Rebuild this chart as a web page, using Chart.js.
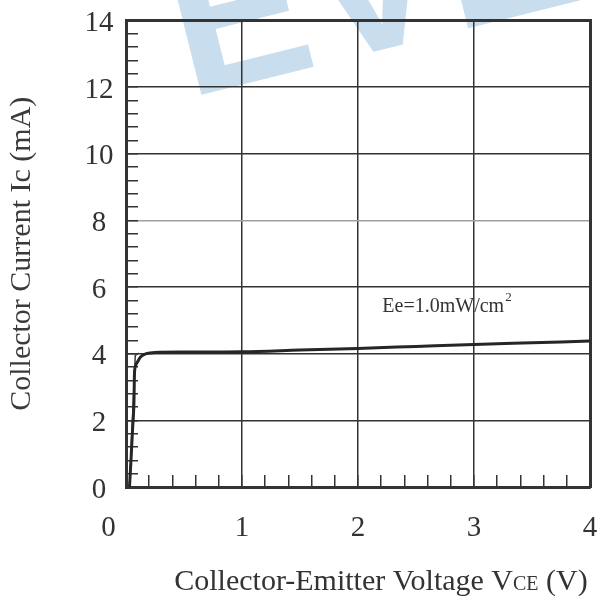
<!DOCTYPE html>
<html lang="en">
<head>
  <meta charset="UTF-8">
  <title>Collector Current vs Collector-Emitter Voltage</title>
  <script src="https://cdn.jsdelivr.net/npm/chart.js"></script>
  <style>
    html, body { margin: 0; padding: 0; background: #fff; }
    .chart { position: relative; width: 599px; height: 603px; }
  </style>
</head>
<body>
  <div class="chart"><canvas id="ivChart"></canvas></div>
  <script>
    // values: VCE in V, Ic in mA
    const vceMain = [0.03, 0.043, 0.056, 0.069, 0.073, 0.082, 0.10, 0.125, 0.174, 0.25, 0.5, 1.0, 1.5, 2.0, 2.5, 3.0, 3.5, 4.0];
    const icMain  = [0, 0.8, 1.7, 2.6, 3.4, 3.63, 3.76, 3.9, 4.0, 4.04, 4.05, 4.06, 4.11, 4.16, 4.22, 4.28, 4.33, 4.38];
    // thin second trace along the steep rise
    const vceThin = [0.03, 0.055, 0.08, 0.11];
    const icThin  = [0, 2.0, 3.95, 4.02];

    const xTickLabels = ['0', '1', '2', '3', '4'];
    const yTickLabels = ['0', '2', '4', '6', '8', '10', '12', '14'];

    const noteText = 'Ee=1.0mW/cm';
    const noteSup = '2';
    const noteAt = [2.21, 5.4];

    const xTitleParts = ['Collector-Emitter Voltage V', 'CE', ' (V)'];
    const yTitle = 'Collector Current Ic (mA)';
    const markText = 'EVE';

    const serif = '"Liberation Serif", "Times New Roman", serif';
    const ink = '#333';

    function isMultiple(v, step) {
      return Math.abs(v / step - Math.round(v / step)) < 1e-6;
    }

    // keep the plot box where the reference has it, labels may overhang
    function noEdgePadding(scale) {
      scale.paddingLeft = 0;
      scale.paddingRight = 0;
      scale.paddingTop = 0;
      scale.paddingBottom = 0;
    }

    // faint watermark behind the plot
    const watermark = {
      id: 'watermark',
      beforeDraw(chart) {
        const ctx = chart.ctx;
        ctx.save();
        ctx.translate(188, 98);
        ctx.rotate(-14 * Math.PI / 180);
        ctx.font = 'bold 206px "Liberation Sans", sans-serif';
        ctx.fillStyle = '#c8ddee';
        ctx.fillText(markText, 0, 0);
        ctx.restore();
      }
    };

    // irradiance note and the x title with small "CE"
    const notes = {
      id: 'notes',
      afterDraw(chart) {
        const ctx = chart.ctx;
        const x = chart.scales.x, y = chart.scales.y;
        ctx.save();
        ctx.fillStyle = ink;
        ctx.textBaseline = 'middle';
        ctx.textAlign = 'left';
        const px = x.getPixelForValue(noteAt[0]);
        const py = y.getPixelForValue(noteAt[1]);
        ctx.font = '20px ' + serif;
        ctx.fillText(noteText, px, py);
        const w = ctx.measureText(noteText).width;
        ctx.font = '13px ' + serif;
        ctx.fillText(noteSup, px + w + 1, py - 9);

        const sizes = [30, 20, 30];
        let total = 0;
        xTitleParts.forEach((t, i) => {
          ctx.font = sizes[i] + 'px ' + serif;
          total += ctx.measureText(t).width;
        });
        let cx = 381 - total / 2;
        ctx.textBaseline = 'alphabetic';
        xTitleParts.forEach((t, i) => {
          ctx.font = sizes[i] + 'px ' + serif;
          ctx.fillText(t, cx, 590);
          cx += ctx.measureText(t).width;
        });
        ctx.restore();
      }
    };

    const ctx = document.getElementById('ivChart').getContext('2d');

    new Chart(ctx, {
      type: 'line',
      data: {
        datasets: [{
          label: 'Ee=1.0mW/cm2',
          data: vceMain.map((v, i) => ({ x: v, y: icMain[i] })),
          borderColor: '#262626',
          borderWidth: 3,
          pointRadius: 0,
          cubicInterpolationMode: 'monotone',
          fill: false
        }, {
          label: 'trace',
          data: vceThin.map((v, i) => ({ x: v, y: icThin[i] })),
          borderColor: '#3a3a3a',
          borderWidth: 1.5,
          pointRadius: 0,
          fill: false
        }]
      },
      options: {
        responsive: true,
        maintainAspectRatio: false,
        animation: false,
        events: [],
        layout: { padding: { top: 20.5, right: 9, bottom: 0, left: 0 } },
        plugins: {
          legend: { display: false },
          tooltip: { enabled: false }
        },
        scales: {
          x: {
            type: 'linear',
            position: 'bottom',
            min: 0,
            max: 4,
            afterFit(scale) { scale.height = 116; noEdgePadding(scale); },
            ticks: {
              stepSize: 0.2,
              maxTicksLimit: 100,
              autoSkip: false,
              maxRotation: 0,
              padding: 36,
              color: ink,
              font: { family: serif, size: 29 },
              callback: (v) => {
                if (!isMultiple(v, 1)) return '';
                const i = Math.round(v);
                return i === 0 ? xTickLabels[0] + '\u2003\u2009' : xTickLabels[i];
              }
            },
            grid: {
              color: (c) => isMultiple(c.tick.value, 1) ? ink : 'rgba(0,0,0,0)',
              lineWidth: 1.5,
              tickColor: ink,
              tickWidth: 1.5,
              tickLength: -12
            },
            border: { color: ink, width: 3 }
          },
          x2: {
            type: 'linear',
            position: 'top',
            min: 0,
            max: 4,
            afterFit(scale) { scale.height = 0; noEdgePadding(scale); },
            ticks: { display: false },
            grid: { drawOnChartArea: false, drawTicks: false },
            border: { color: ink, width: 3 }
          },
          y: {
            type: 'linear',
            position: 'left',
            min: 0,
            max: 14,
            afterFit(scale) { scale.width = 126; noEdgePadding(scale); },
            ticks: {
              stepSize: 0.4,
              maxTicksLimit: 100,
              autoSkip: false,
              crossAlign: 'center',
              padding: 24.5,
              labelOffset: 3,
              color: ink,
              font: { family: serif, size: 29 },
              callback: (v) => isMultiple(v, 2) ? yTickLabels[Math.round(v / 2)] : ''
            },
            grid: {
              color: (c) => {
                if (!isMultiple(c.tick.value, 2)) return 'rgba(0,0,0,0)';
                return Math.round(c.tick.value) === 8 ? '#a0a0a0' : ink;
              },
              lineWidth: 1.5,
              tickColor: ink,
              tickWidth: 1.5,
              tickLength: -12
            },
            border: { color: ink, width: 3 },
            title: {
              display: true,
              text: yTitle,
              color: '#3a3a3a',
              font: { family: serif, size: 30 },
              padding: { top: 4, bottom: 0 }
            }
          },
          y2: {
            type: 'linear',
            position: 'right',
            min: 0,
            max: 14,
            afterFit(scale) { scale.width = 0; noEdgePadding(scale); },
            ticks: { display: false },
            grid: { drawOnChartArea: false, drawTicks: false },
            border: { color: ink, width: 3 }
          }
        }
      },
      plugins: [watermark, notes]
    });
  </script>
</body>
</html>
